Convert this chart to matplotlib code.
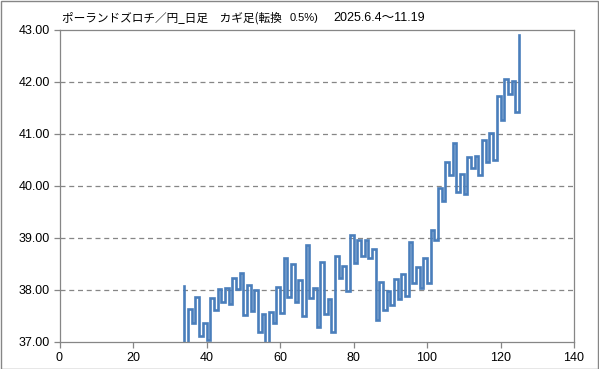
#!/usr/bin/python3

import numpy as np
import matplotlib
matplotlib.use('Agg')
import matplotlib.pyplot as plt
from matplotlib.patches import Rectangle

# kagi turning points: start level, then the level each vertical line ends at
start_x = 34
start_level = 38.08
levels = [36.85, 37.64, 37.36, 37.87, 37.12, 37.36, 37.04, 37.85, 37.62, 38.02,
          37.76, 38.04, 37.74, 38.24, 38.01, 38.33, 37.52, 38.09, 37.60, 38.00,
          37.20, 37.53, 36.90, 37.58, 37.37, 38.06, 37.56, 38.62, 37.86, 38.50,
          37.76, 38.19, 37.50, 38.87, 37.84, 38.04, 37.28, 38.53, 37.53, 37.83,
          37.20, 38.65, 38.24, 38.46, 37.99, 39.06, 38.51, 38.97, 38.66, 38.97,
          38.61, 38.79, 37.43, 38.15, 37.62, 37.99, 37.71, 38.21, 37.83, 38.31,
          37.88, 38.93, 38.14, 38.45, 38.04, 38.62, 38.14, 39.15, 38.96, 39.97,
          39.71, 40.47, 40.22, 40.82, 39.88, 40.24, 39.84, 40.56, 40.34, 40.58,
          40.22, 40.88, 40.46, 41.01, 40.50, 41.74, 41.27, 42.05, 41.76, 42.01,
          41.43, 42.90]

x_ticks = [0, 20, 40, 60, 80, 100, 120, 140]
y_ticks = [37, 38, 39, 40, 41, 42, 43]

title_jp = 'ポーランドズロチ／円_日足　カギ足(転換'
title_rate = '0.5%)'
title_dates = '2025.6.4〜11.19'

# build the kagi path: vertical at each x, horizontal step to next x
xs = start_x + np.arange(len(levels))
tops = [start_level] + levels[:-1]
px = np.repeat(xs, 2)
py = np.column_stack([tops, levels]).ravel()

fig = plt.figure(figsize=(5.99, 3.69), dpi=100)
ax = fig.add_axes([59.5/599, 1-342/369, (574-59.5)/599, (342-30)/369])

ax.plot(px, py, color='#4A7EBB', linewidth=1.9, solid_joinstyle='miter')

ax.set_xlim(0, 140)
ax.set_ylim(37, 43)
ax.set_xticks(x_ticks)
ax.set_yticks(y_ticks)
ax.set_yticklabels(['%.2f' % v for v in y_ticks])
for v in y_ticks[1:-1]:
    ax.axhline(v, color='#868686', linewidth=0.9, linestyle=(0, (4, 3)), zorder=0)

for s in ax.spines.values():
    s.set_color('#868686')
    s.set_linewidth(0.9)
ax.tick_params(axis='both', direction='out', length=4, width=0.9, color='#868686',
               labelsize=9, pad=3)
for lab in ax.get_xticklabels() + ax.get_yticklabels():
    lab.set_family('Liberation Sans')

fam = ['Noto Sans CJK JP', 'DejaVu Sans']
fig.text(62/599, 1-18/369, title_jp, family=fam, fontsize=8.4, va='center', ha='left')
fig.text(290/599, 1-18/369, title_rate, family='Liberation Sans', fontsize=8,
         va='center', ha='left')
fig.text(333/599, 1-18/369, title_dates, family=['Liberation Sans', 'Noto Sans CJK JP'],
         fontsize=9, va='center', ha='left')

# outer chart border
fig.patches.append(Rectangle((0.5/599, 0.5/369), 597.5/599, 367.5/369,
                             transform=fig.transFigure, fill=False,
                             edgecolor='#868686', linewidth=1.0))

fig.savefig('out.png', dpi=100)
